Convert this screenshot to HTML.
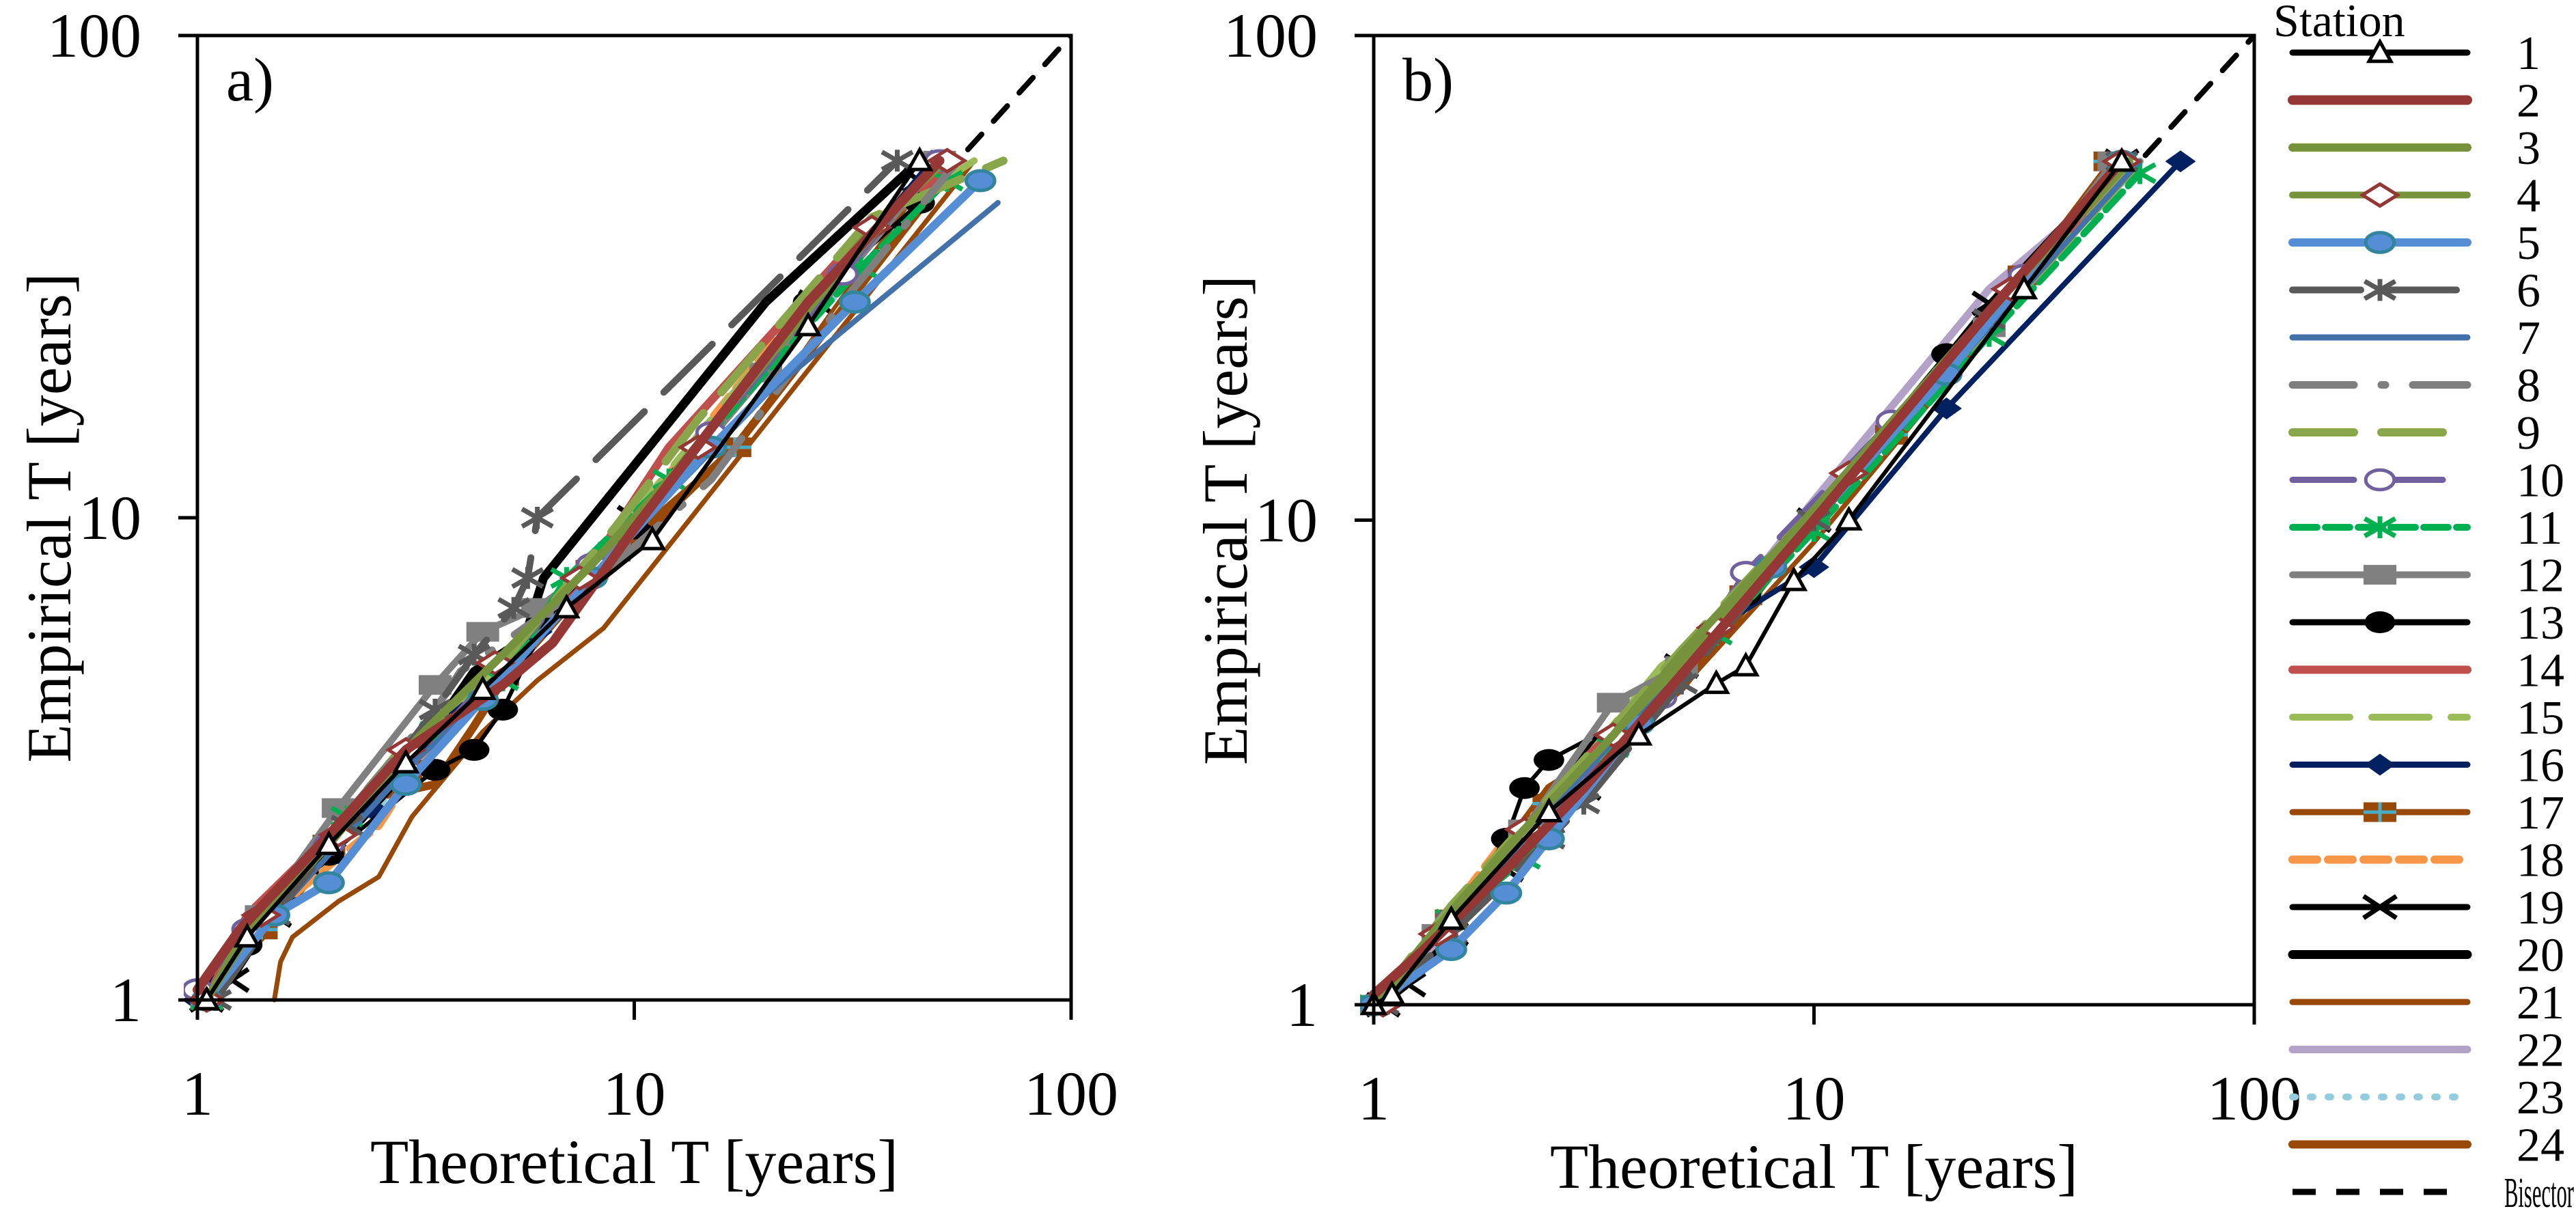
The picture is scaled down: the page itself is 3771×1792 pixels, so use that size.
<!DOCTYPE html>
<html><head><meta charset="utf-8"><style>
html,body{margin:0;padding:0;background:#fff;}
svg{display:block;font-family:"Liberation Serif",serif;}
</style></head><body>
<svg id="chart" width="3771" height="1792" viewBox="0 0 3771 1792" xmlns="http://www.w3.org/2000/svg">
<g id="plots"></g>
<g id="legend"></g>
</svg>
<script>
const xTicks=[1,10,100];
const yTicks=[1,10,100];
const stationLabels=["1","2","3","4","5","6","7","8","9","10","11","12","13","14","15","16","17","18","19","20","21","22","23","24"];
// panel a: [theoretical T, empirical T]
const A1=[[1.05,1],[1.3,1.35],[2,2.1],[3,3.1],[4.5,4.4],[7,6.5],[11,9],[25,25],[45,55]];
const A2=[[1,1.05],[1.25,1.4],[2,2.2],[3,3.3],[5,4.5],[6.5,5.5],[10,9.5],[25,28],[50,55]];
const A3=[[1.05,1],[1.3,1.4],[2,2.1],[3.2,3.5],[5,5.2],[8,8],[12,12],[30,33],[50,55]];
const A4=[[1.05,1],[1.4,1.5],[2.1,2.2],[3,3.3],[4.8,5],[7.5,7.5],[14,14],[35,40],[52,55]];
const A5=[[1.05,1],[1.5,1.5],[2,1.75],[3,2.8],[4.5,4.2],[8,7.5],[15,14],[32,28],[62,50]];
const A6=[[1.1,1],[1.5,1.5],[2.2,2.3],[3.5,4],[4.3,5.2],[5.3,6.5],[5.7,7.5],[6,10],[40,55]];
const A7=[[1.05,1],[1.4,1.4],[2,2],[3,3],[5,4.6],[9,8.5],[20,18],[68,45]];
const A8=[[1.05,1],[1.4,1.45],[2,2.2],[3.5,4],[4,4.8],[5,5.5],[9,8],[15,12],[30,28],[55,55]];
const A9=[[1.05,1],[1.4,1.5],[2,2.2],[3,3.4],[5,5],[9,9.5],[14,16],[35,42],[70,55]];
const A10=[[1,1.05],[1.3,1.4],[2,2.1],[3,3],[5,5],[8,8],[15,15],[30,32],[50,55]];
const A11=[[1.05,1],[1.5,1.5],[2.2,2.4],[3.5,3.6],[5,4.6],[7,7.5],[12,12],[33,33],[52,50]];
const A12=[[1.05,1],[1.4,1.5],[2.1,2.5],[3.5,4.5],[4.5,5.8],[6,6.5],[9,8.5],[20,20],[50,55]];
const A13=[[1.05,1],[1.3,1.3],[2,2],[3.5,3],[4.3,3.3],[5,4],[6.5,6.5],[10,9.5],[25,28],[45,45]];
const A14=[[1.05,1],[1.3,1.5],[2,2.2],[3,3.2],[5,4.5],[8,8],[12,14],[30,35],[55,55]];
const A15=[[1.05,1],[1.4,1.5],[2.1,2.3],[3.2,3.5],[5,5],[8,8],[15,16],[35,40],[60,55]];
const A16=[[1,1],[1.3,1.4],[1.8,1.9],[2.5,2.5],[4,4],[6,5.8],[10,10],[25,27],[48,55]];
const A17=[[1.05,1],[1.4,1.4],[2,2.1],[3,3],[5,4.7],[8,7.8],[17,14],[50,55]];
const A18=[[1.05,1],[1.2,1.3],[2,1.9],[2.6,2.3],[3.5,3.5],[5,5],[7,6.5],[15,16],[30,35],[50,55]];
const A19=[[1.05,1],[1.2,1.1],[1.5,1.5],[2,2],[3,3],[5,5],[10,10],[26,28],[45,50]];
const A20=[[1,1],[2,2],[3,3],[4.3,4.8],[5.6,5.6],[5.9,6.5],[6.2,7.5],[20,28],[45,55]];
const A21=[[1.5,1],[1.55,1.2],[1.65,1.35],[2.1,1.6],[2.6,1.8],[3.1,2.4],[4.5,3.6],[6,4.6],[8.5,5.9],[60,55]];
const A22=[[1.05,1],[1.4,1.4],[2,2.2],[3.2,3.5],[4.5,4.5],[7,7],[13,13],[30,33],[52,55]];
const A23=[[1.05,1],[1.5,1.6],[2,2],[2.5,2.4],[3.5,3.6],[6,6],[12,12],[28,28],[52,52]];
const A24=[[1.05,1],[1.5,1.45],[2,2],[2.4,2.6],[3.5,2.8],[4.3,3.7],[5,4.6],[7,6.5],[17,14],[55,55]];
// panel b
const B1=[[1,1],[1.1,1.05],[1.5,1.5],[2.5,2.5],[4,3.6],[6,4.6],[7,5],[9,7.5],[12,10],[30,30],[50,55]];
const B2=[[1,1.05],[1.3,1.3],[2,1.9],[3,2.8],[5,4.8],[10,10],[25,27],[50,55]];
const B3=[[1,1],[1.4,1.45],[2,2.1],[3.5,3.6],[5,5.3],[10,10.5],[25,27],[52,55]];
const B4=[[1.05,1],[1.4,1.4],[2.2,2.3],[3.5,3.6],[6,6],[12,12.5],[28,30],[50,55]];
const B5=[[1,1],[1.5,1.3],[2,1.7],[2.5,2.2],[4,3.8],[8,8],[20,20],[50,55]];
const B6=[[1.05,1],[1.5,1.4],[2.5,2.2],[3,2.6],[5,4.6],[10,10],[25,26],[50,55]];
const B7=[[1,1],[1.5,1.5],[3,3],[6,6],[12,12],[30,30],[55,55]];
const B8=[[1.05,1],[1.5,1.5],[2.2,2.2],[4,4],[8,8],[20,21],[52,55]];
const B9=[[1,1],[1.5,1.6],[3,3.2],[5,5.4],[8,8.5],[20,20],[55,55]];
const B10=[[1,1],[1.5,1.5],[2.5,2.4],[4,4],[4.5,4.3],[7,7.8],[15,16],[30,32],[50,55]];
const B11=[[1,1],[1.5,1.5],[2.2,2],[3.5,3.4],[6,5.8],[10,9.5],[25,24],[55,52]];
const B12=[[1,1],[1.4,1.4],[2.2,2.3],[3.5,4.2],[5,5],[10,10],[25,25],[48,55]];
const B13=[[1,1],[1.5,1.5],[2,2.2],[2.2,2.8],[2.5,3.2],[4,4],[7,7],[20,22],[50,55]];
const B14=[[1,1],[1.4,1.4],[2,2.1],[3,3.2],[5,5],[10,10],[25,26],[52,55]];
const B15=[[1,1],[1.5,1.55],[2.5,2.6],[4.5,5],[6,6],[10,10],[25,25],[55,55]];
const B16=[[1,1],[1.5,1.5],[3,3],[6,6],[10,8],[20,17],[68,55]];
const B17=[[1,1],[1.5,1.5],[2.5,2.6],[4,4],[7,7],[15,15],[30,32],[47,55]];
const B18=[[1,1],[1.2,1.2],[2,2.2],[3,3],[5,5],[10,10],[25,25],[50,55]];
const B19=[[1.05,1],[1.2,1.1],[1.5,1.4],[2,1.9],[3,2.8],[5,5],[10,10],[25,28],[50,55]];
const B20=[[1,1],[1.5,1.5],[2,2],[3,3.3],[5,5],[8,8],[20,20],[50,55]];
const B21=[[1,1],[1.4,1.3],[2,2.1],[3,2.8],[5,4.5],[10,9],[30,30],[50,55]];
const B22=[[1,1],[1.5,1.4],[2.5,2.5],[4,3.6],[5,5],[10,11],[25,30],[55,55]];
const B23=[[1,1],[1.5,1.5],[2.5,2.4],[5,4.8],[10,11],[25,26],[52,55]];
const B24=[[1,1],[1.5,1.5],[2.5,2.8],[3.5,3.4],[5,4.5],[10,10],[25,26],[50,55]];
const bisector=[[1,1],[100,100]];

const seriesA=[A1,A2,A3,A4,A5,A6,A7,A8,A9,A10,A11,A12,A13,A14,A15,A16,A17,A18,A19,A20,A21,A22,A23,A24];
const seriesB=[B1,B2,B3,B4,B5,B6,B7,B8,B9,B10,B11,B12,B13,B14,B15,B16,B17,B18,B19,B20,B21,B22,B23,B24];

const colors=["#000000","#953735","#76923C","#77933C","#558ED5","#595959","#4372AA","#7F7F7F","#8AA64A","#7060A0","#00B050","#808080","#000000","#C0504D","#9BBB59","#002060","#984807","#F79646","#000000","#000000","#984807","#B3A2C7","#93CDDD","#984807"];
const widths=[6,14,12,10,12,10,8,11,12,9,10,10,6,12,10,8,6,12,8,13,7,11,10,12];
const dashes=["","","","","","100 40","","90 40 6 40","90 40","90 40","36 12","","","","84 32","","","36 16","","","","","4 22","" ];
const markers=["tri","","","dopen","cfill","aster","","","","copen","star","square","dot","","","dfill","sqplus","","x","","","","",""];

const NS="http://www.w3.org/2000/svg";
function mk(tag,attrs,parent){const e=document.createElementNS(NS,tag);for(const k in attrs)e.setAttribute(k,attrs[k]);parent.appendChild(e);return e;}
function drawMarker(type,x,y,g,c){
  const m=document.createElementNS(NS,'g');g.appendChild(m);
  
  
  const s=16;
  if(type==='tri')mk('polygon',{points:`${x},${y-s} ${x-s},${y+s*0.8} ${x+s},${y+s*0.8}`,fill:'#fff',stroke:'#000','stroke-width':5},m);
  if(type==='dopen')mk('polygon',{points:`${x},${y-s} ${x+s*1.6},${y} ${x},${y+s} ${x-s*1.6},${y}`,fill:'#fff',stroke:'#953735','stroke-width':5},m);
  if(type==='cfill')mk('ellipse',{cx:x,cy:y,rx:s*1.3,ry:s*0.9,fill:'#558ED5',stroke:'#31859C','stroke-width':5},m);
  if(type==='copen')mk('ellipse',{cx:x,cy:y,rx:s*1.3,ry:s*0.9,fill:'#fff',stroke:'#7060A0','stroke-width':5},m);
  if(type==='aster'||type==='star'){const col=type==='aster'?'#595959':'#00B050';
    mk('path',{d:`M${x-s*1.4},${y-s*0.8}L${x+s*1.4},${y+s*0.8}M${x-s*1.4},${y+s*0.8}L${x+s*1.4},${y-s*0.8}M${x},${y-s}L${x},${y+s}`,stroke:col,'stroke-width':7,fill:'none'},m);}
  if(type==='square')mk('rect',{x:x-s*1.5,y:y-s*0.9,width:s*3,height:s*1.8,fill:'#808080'},m);
  if(type==='dot')mk('ellipse',{cx:x,cy:y,rx:s*1.4,ry:s,fill:'#000'},m);
  if(type==='dfill')mk('polygon',{points:`${x},${y-s} ${x+s*1.4},${y} ${x},${y+s} ${x-s*1.4},${y}`,fill:'#002060'},m);
  if(type==='sqplus'){mk('rect',{x:x-s*1.5,y:y-s*0.9,width:s*3,height:s*1.8,fill:'#984807'},m);
    mk('path',{d:`M${x},${y-s*0.9}L${x},${y+s*0.9}M${x-s*1.5},${y}L${x+s*1.5},${y}`,stroke:'#4BACC6','stroke-width':5},m);}
  if(type==='x')mk('path',{d:`M${x-s*1.5},${y-s}L${x+s*1.5},${y+s}M${x-s*1.5},${y+s}L${x+s*1.5},${y-s}`,stroke:'#000','stroke-width':7},m);
}

function panel(id,letter,X0,X1,Y0,Y1,series){
  const root=document.getElementById('plots');
  const g=mk('g',{},root);
  
  
  const xs=v=>X0+Math.log10(v)/2*(X1-X0);
  const ys=v=>Y0-Math.log10(v)/2*(Y0-Y1);
  const clip='clip-'+id;
  const defs=mk('defs',{},g);const cp=mk('clipPath',{id:clip},defs);mk('rect',{x:X0-20,y:Y1,width:X1-X0+20,height:Y0-Y1+30},cp);
  const data=mk('g',{'clip-path':`url(#${clip})`},g);
  const bp=bisector.map(p=>xs(p[0])+','+ys(p[1])).join(' ');
  const bl=mk('polyline',{points:bp,fill:'none',stroke:'#000','stroke-width':8,'stroke-dasharray':'30 26','stroke-linecap':'round'},data);
  
  
  for(let i=series.length-1;i>=0;i--){
    const pts=series[i].map(p=>xs(p[0]).toFixed(1)+','+ys(p[1]).toFixed(1)).join(' ');
    const attrs={points:pts,fill:'none',stroke:colors[i],'stroke-width':widths[i],'stroke-linecap':'round','stroke-linejoin':'round'};
    if(dashes[i])attrs['stroke-dasharray']=dashes[i];
    const sg=mk('g',{},data);
    
    
    mk('polyline',attrs,sg);
    if(markers[i])series[i].forEach(p=>drawMarker(markers[i],xs(p[0]),ys(p[1]),sg,colors[i]));
  }
  const fr=mk('rect',{x:X0,y:Y1,width:X1-X0,height:Y0-Y1,fill:'none',stroke:'#000','stroke-width':5},g);
  
  
  xTicks.forEach(t=>{
    mk('line',{x1:xs(t),x2:xs(t),y1:Y0,y2:Y0+29,stroke:'#000','stroke-width':5},g);
    const tx=mk('text',{x:xs(t),y:Y0+168,'font-size':92,'text-anchor':'middle'},g);tx.textContent=t;
    
    
  });
  yTicks.forEach(t=>{
    mk('line',{x1:X0-28,x2:X0,y1:ys(t),y2:ys(t),stroke:'#000','stroke-width':5},g);
    const tx=mk('text',{x:X0-82,y:ys(t)+31,'font-size':92,'text-anchor':'end'},g);tx.textContent=t;
    
    
  });
  const xt=mk('text',{x:(X0+X1)/2,y:Y0+268,'font-size':92,'text-anchor':'middle'},g);xt.textContent='Theoretical T [years]';
  
  
  const cy=(Y0+Y1)/2;
  const yt=mk('text',{x:X0-217,y:cy,'font-size':92,'text-anchor':'middle',transform:`rotate(-90 ${X0-217} ${cy}) translate(0 31)`},g);yt.textContent='Empirical T [years]';
  
  
  const pl=mk('text',{x:X0+42,y:Y1+95,'font-size':90},g);pl.textContent=letter;
  
  
}
panel('a','a)',289,1568,1464,52,seriesA);
panel('b','b)',2011,3300,1471,52,seriesB);

// legend
const lg=document.getElementById('legend');
const st=mk('text',{x:3328,y:53,'font-size':68},lg);st.textContent='Station';


const LX0=3356,LX1=3612,LY0=77,LDY=69.5;
for(let i=0;i<25;i++){
  const y=LY0+i*LDY;
  const e=mk('g',{},lg);
  
  
  if(i<24){
    const a={x1:LX0,x2:LX1,y1:y,y2:y,stroke:colors[i],'stroke-width':Math.max(9,Math.min(widths[i],14)),'stroke-linecap':'round'};
    if(dashes[i])a['stroke-dasharray']=dashes[i];
    mk('line',a,e);
    if(markers[i])drawMarker(markers[i],(LX0+LX1)/2,y,e,colors[i]);
    const t=mk('text',{x:3684,y:y+24,'font-size':70},e);
    t.textContent=stationLabels[i];
  }else{
    mk('line',{x1:LX0,x2:LX1,y1:y,y2:y,stroke:'#000','stroke-width':9,'stroke-dasharray':'34 30'},e);
    const t=mk('text',{x:3666,y:y+22,'font-size':62,textLength:102,lengthAdjust:'spacingAndGlyphs'},e);
    t.textContent='Bisector';
  }
}
</script>
</body></html>
